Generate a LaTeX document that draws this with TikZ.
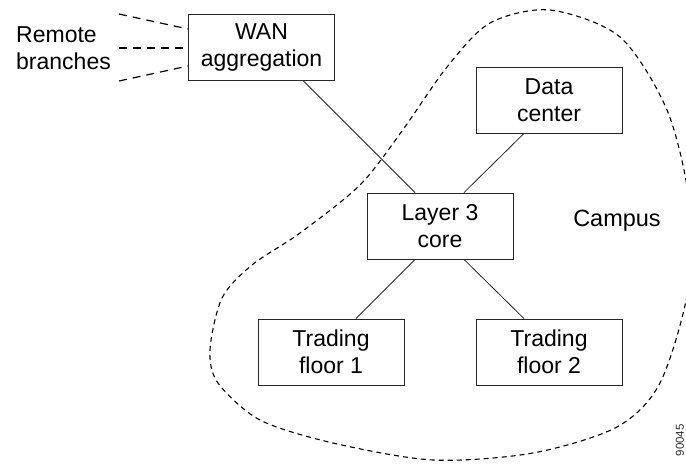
\documentclass[tikz,border=0pt]{standalone}
\usepackage{fontspec}
\setmainfont{Liberation Sans}
\usetikzlibrary{calc}

\begin{document}
\begin{tikzpicture}[x=1pt,y=-1pt,
  box/.style={draw=black!85,line width=0.9pt,minimum width=146pt,minimum height=66pt,inner sep=0pt,align=center,font=\fontsize{23}{27}\selectfont},
  link/.style={black!85,line width=0.8pt},
  dashlink/.style={black,line width=1.2pt,dash pattern=on 8pt off 6pt},
  campusline/.style={black,line width=1.1pt,dash pattern=on 5pt off 4pt}]
\useasboundingbox (0,0) rectangle (686,464);
\clip (0,0) rectangle (686,464);

% boxes
\node[box] (wan) at (261.5,47) {WAN\\aggregation};
\node[box] (dc) at (549,100) {Data\\center};
\node[box] (core) at (440,226) {Layer 3\\core};
\node[box] (tf1) at (331,352) {Trading\\floor 1};
\node[box] (tf2) at (549,352) {Trading\\floor 2};

% labels
\node[anchor=west,align=left,inner sep=0pt,font=\fontsize{23}{27}\selectfont] (rb) at (16,48) {Remote\\branches};
\node[inner sep=0pt,font=\fontsize{23.5}{27}\selectfont] (cl) at (617,221) {Campus};
\node[rotate=90,anchor=east,inner sep=0pt,text=black!80,font=\fontsize{11.5}{13}\selectfont] (tag) at (680,424) {90045};

% remote branches
\coordinate (r1) at (119,14);
\coordinate (r2) at (119,48);
\coordinate (r3) at (119,81);
\draw[dashlink] (r1) -- ($(wan.west)+(0,-18)$);
\draw[dashlink] (r2) -- ($(wan.west)+(0,1)$);
\draw[dashlink] (r3) -- ($(wan.west)+(0,19)$);

% links
\draw[link] ($(wan.south)+(41.5,0)$) -- ($(core.north)+(-25,0)$);
\draw[link] ($(dc.south)+(-25,0)$) -- ($(core.north)+(24,0)$);
\draw[link] ($(core.south)+(-25,0)$) -- ($(tf1.north)+(25,0)$);
\draw[link] ($(core.south)+(24,0)$) -- ($(tf2.north)+(-25,0)$);

% campus area
\draw[campusline] plot[smooth cycle] coordinates {
  (210,350) (222,298) (252,265) (300,233) (360,185) (402,131) (447,67)
  (490,23) (550,10) (620,37) (667,110) (689,200) (688,290) (660,383)
  (617,427) (533,453) (433,460) (333,443) (260,420) (218,383)};

\end{tikzpicture}
\end{document}
